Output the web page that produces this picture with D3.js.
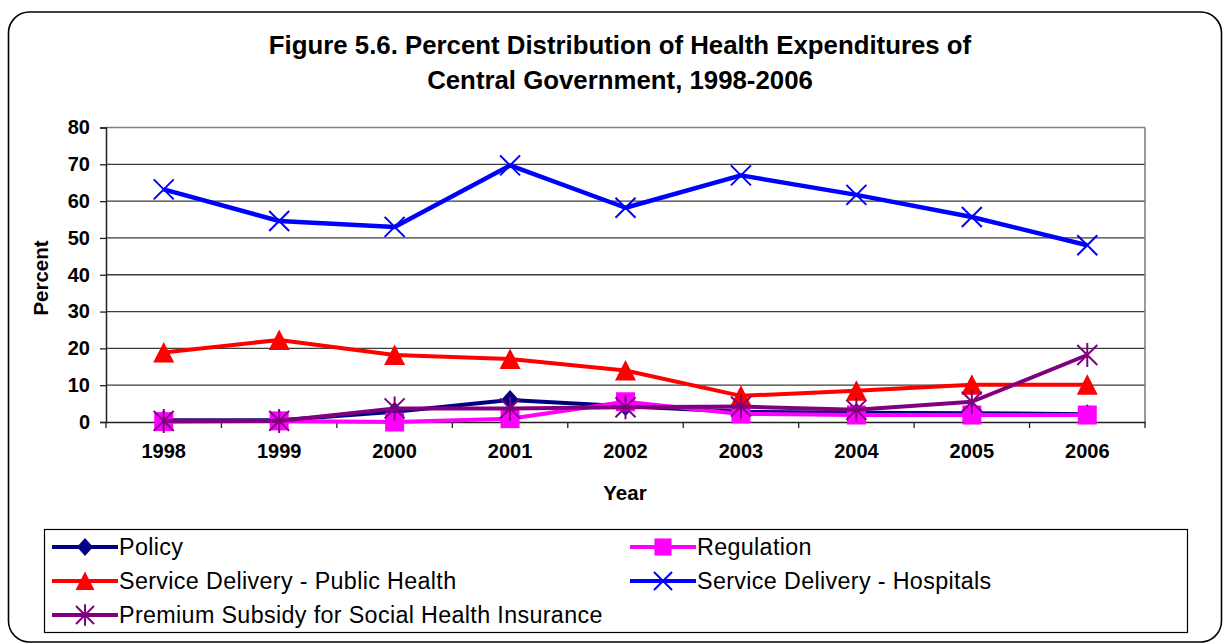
<!DOCTYPE html>
<html>
<head>
<meta charset="utf-8">
<script src="https://cdn.jsdelivr.net/npm/d3@7"></script>
<style>
  html, body { margin: 0; padding: 0; background: #fff; }
  svg { display: block; }
  text { font-family: 'Liberation Sans', Arial, sans-serif; fill: #000; }
</style>
</head>
<body>
<svg id="chart" width="1228" height="644"></svg>
<script>
// ---- data ----
const years = ["1998", "1999", "2000", "2001", "2002", "2003", "2004", "2005", "2006"];
const policy = [0.5, 0.5, 2.8, 6.0, 4.3, 2.8, 2.5, 2.4, 2.1];
const regulation = [0.1, 0.3, 0.0, 0.9, 5.5, 2.2, 1.9, 1.9, 1.9];
const publicHealth = [18.9, 22.3, 18.2, 17.1, 14.0, 7.1, 8.5, 10.1, 10.1];
const hospitals = [63.2, 54.6, 53.0, 69.7, 58.2, 67.0, 61.7, 55.7, 48.0];
const premium = [0.3, 0.3, 3.7, 3.7, 4.0, 4.2, 3.3, 5.5, 18.2];
const yTicks = [0, 10, 20, 30, 40, 50, 60, 70, 80];
const seriesNames = ["Policy", "Regulation", "Service Delivery - Public Health", "Service Delivery - Hospitals", "Premium Subsidy for Social Health Insurance"];
const titleLines = ["Figure 5.6. Percent Distribution of Health Expenditures of", "Central Government, 1998-2006"];

const series = [
  { name: seriesNames[0], values: policy, color: "#000080", marker: "diamond" },
  { name: seriesNames[1], values: regulation, color: "#FF00FF", marker: "square" },
  { name: seriesNames[2], values: publicHealth, color: "#FF0000", marker: "triangle" },
  { name: seriesNames[3], values: hospitals, color: "#0000FF", marker: "x" },
  { name: seriesNames[4], values: premium, color: "#800080", marker: "star" }
];

const svg = d3.select("#chart");

// outer rounded frame
svg.append("rect")
  .attr("x", 8.5).attr("y", 12).attr("width", 1213).attr("height", 630)
  .attr("rx", 21).attr("ry", 21)
  .attr("fill", "#fff").attr("stroke", "#000").attr("stroke-width", 1.6);

// title
svg.selectAll("text.title").data(titleLines).enter().append("text")
  .attr("class", "title")
  .attr("x", 620).attr("y", (d, i) => 54 + i * 35)
  .attr("text-anchor", "middle")
  .style("font-size", "25.8px").style("font-weight", "bold")
  .text(d => d);

// scales
const plot = { left: 106, right: 1145, top: 127.5, bottom: 422 };
const x = d3.scaleBand().domain(years).range([plot.left, plot.right]);
const cx = d => x(d) + x.bandwidth() / 2;
const y = d3.scaleLinear().domain([0, 80]).range([plot.bottom, plot.top]);

// gridlines
svg.append("g").selectAll("line").data(yTicks.filter(t => t > 0)).enter().append("line")
  .attr("x1", plot.left).attr("x2", plot.right)
  .attr("y1", d => y(d)).attr("y2", d => y(d))
  .attr("stroke", d => d === 80 ? "#808080" : "#3c3c3c").attr("stroke-width", 1.3);

// plot area right border
svg.append("line")
  .attr("x1", plot.right).attr("x2", plot.right).attr("y1", plot.top).attr("y2", plot.bottom)
  .attr("stroke", "#808080").attr("stroke-width", 1.6);

// y axis
const yAxis = d3.axisLeft(y).tickValues(yTicks).tickSize(6).tickPadding(10).tickFormat(d3.format("d"));
const gy = svg.append("g").attr("transform", `translate(${plot.left},0)`).call(yAxis);
gy.select(".domain").attr("stroke", "#222").attr("stroke-width", 1.5);
gy.selectAll(".tick line").attr("stroke", "#222").attr("stroke-width", 1.3);
gy.selectAll(".tick text").style("font-size", "20px").style("font-weight", "bold")
  .style("font-family", "'Liberation Sans', Arial, sans-serif").attr("fill", "#000");

// x axis
const xAxis = d3.axisBottom(x).tickSize(0).tickPadding(22);
const gx = svg.append("g").attr("transform", `translate(0,${plot.bottom})`).call(xAxis);
gx.select(".domain").attr("stroke", "#222").attr("stroke-width", 1.5);
gx.selectAll(".tick text").style("font-size", "20px").style("font-weight", "bold")
  .style("font-family", "'Liberation Sans', Arial, sans-serif").attr("fill", "#000");
// tick marks at category boundaries
const boundaries = years.map(d => x(d)).concat([x(years[years.length - 1]) + x.bandwidth()]);
svg.append("g").selectAll("line").data(boundaries).enter().append("line")
  .attr("x1", d => d).attr("x2", d => d)
  .attr("y1", plot.bottom).attr("y2", plot.bottom + 6)
  .attr("stroke", "#222").attr("stroke-width", 1.3);

// axis titles
svg.append("text").attr("x", 625).attr("y", 500).attr("text-anchor", "middle")
  .style("font-size", "20.5px").style("font-weight", "bold").text("Year");
svg.append("text").attr("transform", "translate(48,278) rotate(-90)").attr("text-anchor", "middle")
  .style("font-size", "20.5px").style("font-weight", "bold").text("Percent");

// marker drawing
function drawMarker(g, type, color, px, py, scale = 1) {
  const s = scale;
  if (type === "diamond") {
    g.append("path").attr("d", `M${px},${py - 10 * s} L${px + 9 * s},${py} L${px},${py + 10 * s} L${px - 9 * s},${py} Z`)
      .attr("fill", color);
  } else if (type === "square") {
    g.append("rect").attr("x", px - 9.5 * s).attr("y", py - 9.5 * s).attr("width", 19 * s).attr("height", 19 * s)
      .attr("fill", color);
  } else if (type === "triangle") {
    g.append("path").attr("d", `M${px},${py - 10.5 * s} L${px + 10.5 * s},${py + 10 * s} L${px - 10.5 * s},${py + 10 * s} Z`)
      .attr("fill", color);
  } else if (type === "x") {
    g.append("path").attr("d", `M${px - 10 * s},${py - 10 * s} L${px + 10 * s},${py + 10 * s} M${px - 10 * s},${py + 10 * s} L${px + 10 * s},${py - 10 * s}`)
      .attr("stroke", color).attr("stroke-width", 2).attr("fill", "none");
  } else if (type === "star") {
    g.append("path").attr("d", `M${px - 10 * s},${py - 10 * s} L${px + 10 * s},${py + 10 * s} M${px - 10 * s},${py + 10 * s} L${px + 10 * s},${py - 10 * s} M${px},${py - 12 * s} L${px},${py + 12 * s}`)
      .attr("stroke", color).attr("stroke-width", 2).attr("fill", "none");
  }
}

// series
const line = d3.line().x((d, i) => cx(years[i])).y(d => y(d));
series.forEach(s => {
  const g = svg.append("g");
  g.append("path").datum(s.values).attr("d", line)
    .attr("fill", "none").attr("stroke", s.color)
    .attr("stroke-width", s.marker === "x" ? 4.5 : 4).attr("stroke-linejoin", "round");
  s.values.forEach((v, i) => drawMarker(g, s.marker, s.color, cx(years[i]), y(v)));
});

// legend
svg.append("rect").attr("x", 44.5).attr("y", 529.5).attr("width", 1143).attr("height", 103)
  .attr("fill", "none").attr("stroke", "#000").attr("stroke-width", 1.2);
const legendPos = [
  { lx: 52, ly: 547 }, { lx: 630, ly: 547 },
  { lx: 52, ly: 581 }, { lx: 630, ly: 581 },
  { lx: 52, ly: 615 }
];
series.forEach((s, i) => {
  const p = legendPos[i];
  const g = svg.append("g");
  g.append("line").attr("x1", p.lx).attr("x2", p.lx + 66).attr("y1", p.ly).attr("y2", p.ly)
    .attr("stroke", s.color).attr("stroke-width", 4);
  drawMarker(g, s.marker, s.color, p.lx + 33, p.ly, 0.9);
  g.append("text").attr("x", p.lx + 67).attr("y", p.ly + 8)
    .style("font-size", "23.3px").style("letter-spacing", "0.35px").text(s.name);
});
</script>
</body>
</html>
